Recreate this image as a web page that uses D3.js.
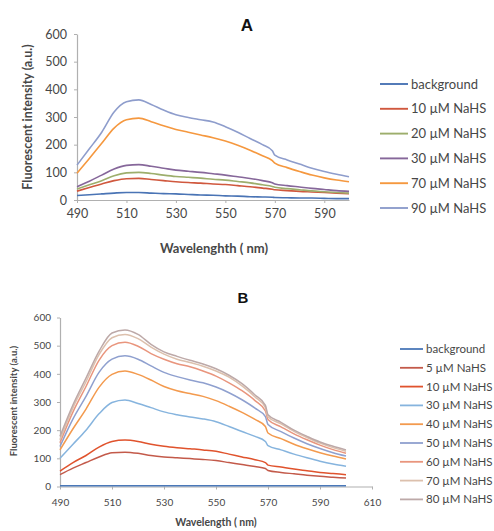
<!DOCTYPE html>
<html><head><meta charset="utf-8">
<script src="https://cdn.jsdelivr.net/npm/d3@7"></script>
<style>
body{margin:0;background:#fff;}
svg{display:block;font-family:Lato,"Open Sans",sans-serif;}
</style></head>
<body>
<svg id="chart" width="494" height="531"></svg>
<script>
// ---------- Data ----------
const wavelengths = [490,495,500,505,510,515,520,525,530,535,540,545,550,555,560,565,569,570,575,580,585,590,595,600];

// Panel A
const seriesA = ["background","10 \u00b5M NaHS","20 \u00b5M NaHS","30 \u00b5M NaHS","70 \u00b5M NaHS","90 \u00b5M NaHS"];
const colorsA = ["#4a74b5","#d0583e","#9dae6c","#86679a","#f5983f","#8e9dcc"];
const aBackground = [16,19,22,25,27,27,25,23,22,20,18,17,15,14,12,11,10,9,8,7,7,6,5,5];
const a10 = [32,45,58,70,77,78,74,70,66,63,61,58,56,52,48,43,39,37,34,31,29,27,25,23];
const a20 = [40,55,70,88,98,100,96,90,85,82,79,75,72,67,62,55,49,46,41,37,33,30,27,25];
const a30 = [48,68,90,112,125,128,122,115,108,104,100,95,90,84,78,70,62,58,52,47,42,38,34,31];
const a70 = [97,150,205,260,290,296,283,268,255,245,235,225,213,198,180,160,142,133,117,103,90,80,72,66];
const a90 = [126,185,245,318,355,362,345,325,308,298,290,282,265,245,222,200,178,162,145,130,115,103,93,84];
const valuesA = [aBackground,a10,a20,a30,a70,a90];
const xTicksA = [490,510,530,550,570,590];
const yTicksA = [0,100,200,300,400,500,600];

// Panel B
const seriesB = ["background","5 \u00b5M NaHS","10 \u00b5M NaHS","30 \u00b5M NaHS","40 \u00b5M NaHS","50 \u00b5M NaHS","60 \u00b5M NaHS","70 \u00b5M NaHS","80 \u00b5M NaHS"];
const colorsB = ["#4a78b8","#c35a4a","#e0532d","#86b4de","#f39a4e","#8fa0cf","#e9957d","#dcc0ad","#bda9a8"];
const bBackground = [3,3,3,3,3,3,3,3,3,3,3,3,3,3,3,3,3,3,3,3,3,3,3,3];
const b5 = [42,65,85,105,120,122,118,110,105,102,99,96,92,85,78,71,64,57,50,45,40,36,33,30];
const b10 = [55,85,110,140,160,165,160,150,143,138,134,130,125,115,105,95,85,76,69,62,56,50,46,42];
const b30 = [100,150,200,258,298,307,295,280,265,255,247,240,230,213,195,178,160,145,130,115,102,90,80,72];
const b40 = [130,205,275,352,398,410,398,378,355,340,330,320,305,285,263,238,213,190,170,150,134,120,108,98];
const b50 = [142,240,320,405,452,464,452,428,405,390,378,368,353,333,308,278,248,220,195,172,152,135,120,108];
const b60 = [155,265,355,448,500,512,498,472,452,436,425,410,392,368,340,305,268,238,212,187,166,147,131,118];
const b70 = [166,280,372,468,528,540,525,495,470,452,440,427,410,388,357,318,280,248,222,196,174,154,138,125];
const b80 = [178,290,385,480,545,556,540,505,478,462,448,435,418,395,365,325,288,255,228,200,178,158,143,130];
const valuesB = [bBackground,b5,b10,b30,b40,b50,b60,b70,b80];
const xTicksB = [490,510,530,550,570,590,610];
const yTicksB = [0,100,200,300,400,500,600];

// ---------- Drawing ----------
const svg = d3.select("#chart");
const axisColor = "#b0b0b0";
const textColor = "#474747";

function panel(cfg){
  const g = svg.append("g");
  const x = d3.scaleLinear().domain(cfg.xDomain).range(cfg.xRange);
  const y = d3.scaleLinear().domain([0,600]).range(cfg.yRange);

  const xAxis = g.append("g").attr("transform",`translate(0,${cfg.yRange[0]})`)
    .call(d3.axisBottom(x).tickValues(cfg.xTicks).tickSize(3).tickSizeOuter(0).tickFormat(d3.format("d")));
  const yAxis = g.append("g").attr("transform",`translate(${cfg.xRange[0]},0)`)
    .call(d3.axisLeft(y).tickValues(cfg.yTicks).tickSize(3).tickSizeOuter(0));
  [xAxis,yAxis].forEach(a=>{
    a.select(".domain").attr("stroke",axisColor).attr("stroke-width",1.2);
    a.selectAll(".tick line").attr("stroke",axisColor);
    a.selectAll(".tick text").attr("fill",textColor).attr("font-size",cfg.tickFont)
      .attr("font-family","Lato, 'Open Sans', sans-serif");
  });
  xAxis.selectAll(".tick text").attr("dy",cfg.xTickDy);
  yAxis.selectAll(".tick text").attr("x",-cfg.yTickPad);

  const line = d3.line().x((d,i)=>x(wavelengths[i])).y(d=>y(d)).curve(d3.curveMonotoneX);
  cfg.values.forEach((vals,k)=>{
    g.append("path").datum(vals).attr("d",line).attr("fill","none")
      .attr("stroke",cfg.colors[k]).attr("stroke-width",cfg.lineWidth).attr("stroke-linejoin","round");
  });

  g.append("text").attr("x",cfg.titleX).attr("y",cfg.titleY).attr("text-anchor","middle")
    .attr("font-family","Arial, 'Liberation Sans', sans-serif").attr("font-weight","bold")
    .attr("font-size",cfg.titleSize).attr("fill","#111").text(cfg.title);
  g.append("text").attr("x",cfg.xLabelX).attr("y",cfg.xLabelY).attr("text-anchor","middle")
    .attr("font-weight","bold").attr("font-size",cfg.xLabelSize).attr("fill",textColor).text(cfg.xLabel);
  g.append("text").attr("transform",`translate(${cfg.yLabelX},${cfg.yLabelY}) rotate(-90)`)
    .attr("text-anchor","middle").attr("font-weight","bold").attr("font-size",cfg.yLabelSize)
    .attr("fill",textColor).text(cfg.yLabel);

  const leg = g.append("g");
  cfg.names.forEach((n,k)=>{
    const yy = cfg.legY + k*cfg.legStep;
    leg.append("line").attr("x1",cfg.legX1).attr("x2",cfg.legX2).attr("y1",yy).attr("y2",yy)
      .attr("stroke",cfg.colors[k]).attr("stroke-width",cfg.lineWidth+0.3);
    leg.append("text").attr("x",cfg.legX2+3).attr("y",yy).attr("dy","0.35em")
      .attr("font-size",cfg.legFont).attr("fill",textColor).text(n);
  });
}

panel({
  xDomain:[490,600], xRange:[77,349], yRange:[200,34],
  xTicks:xTicksA, yTicks:yTicksA, values:valuesA, colors:colorsA, names:seriesA,
  tickFont:12.5, xTickDy:"0.95em", yTickPad:10, lineWidth:1.6,
  title:"A", titleX:247, titleY:31, titleSize:17,
  xLabel:"Wavelenghth ( nm)", xLabelX:214, xLabelY:253, xLabelSize:13,
  yLabel:"Fluorescent intensity (a.u.)", yLabelX:32, yLabelY:117, yLabelSize:12.5,
  legX1:380, legX2:408, legY:84, legStep:24.8, legFont:13
});

panel({
  xDomain:[490,610], xRange:[60,372], yRange:[486.5,317.5],
  xTicks:xTicksB, yTicks:yTicksB, values:valuesB, colors:colorsB, names:seriesB,
  tickFont:10, xTickDy:"1.3em", yTickPad:9, lineWidth:1.5,
  title:"B", titleX:243, titleY:303, titleSize:15,
  xLabel:"Wavelength ( nm)", xLabelX:216, xLabelY:526, xLabelSize:10.5,
  yLabel:"Fluorescent intensity (a.u.)", yLabelX:17, yLabelY:401, yLabelSize:9.5,
  legX1:400, legX2:423, legY:349, legStep:18.8, legFont:11.5
});
</script>
</body></html>
